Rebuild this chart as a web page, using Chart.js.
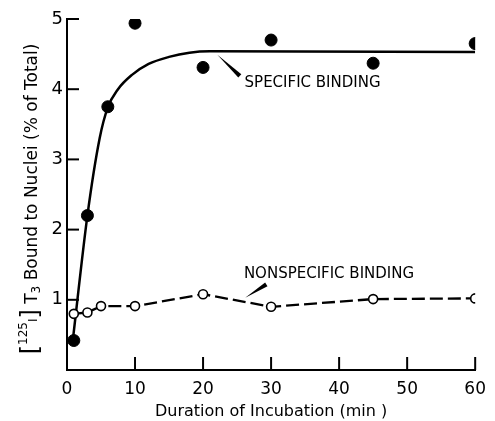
<!DOCTYPE html>
<html>
<head>
<meta charset="utf-8">
<script src="https://cdn.jsdelivr.net/npm/chart.js@4"></script>
<style>
  html, body { margin: 0; padding: 0; background: #fff; }
</style>
</head>
<body>
<canvas id="bindingChart" width="495" height="421"></canvas>
<script>
// values
const specTime = [1, 3, 6, 10, 20, 30, 45, 60];
const specValue = [0.42, 2.2, 3.75, 4.94, 4.31, 4.7, 4.37, 4.65];

// hand-drawn fit curve
const fitTime = [0.85, 3, 4.8, 6, 7.5, 9.5, 12, 15, 18, 21, 60];
const fitValue = [0.42, 2.2, 3.3, 3.74, 4.0, 4.2, 4.36, 4.46, 4.52, 4.54, 4.53];

const nsTime = [1, 3, 5, 10, 20, 30, 45, 60];
const nsValue = [0.80, 0.82, 0.91, 0.91, 1.08, 0.90, 1.01, 1.02];

const xTicks = [0, 10, 20, 30, 40, 50, 60];
const yTicks = [1, 2, 3, 4, 5];

const FONT = "'DejaVu Sans', sans-serif";

const toPoints = (xs, ys) => xs.map((x, i) => ({ x: x, y: ys[i] }));

// inward tick marks, y title with super/subscripts, and the two labels
const extras = {
  id: 'extras',
  afterDraw(chart) {
    const ctx = chart.ctx;
    const x = chart.scales.x, y = chart.scales.y;
    const area = chart.chartArea;
    ctx.save();
    ctx.strokeStyle = '#000';
    ctx.lineWidth = 2;
    yTicks.forEach(v => {
      const py = y.getPixelForValue(v);
      ctx.beginPath();
      ctx.moveTo(area.left, py);
      ctx.lineTo(area.left + 12, py);
      ctx.stroke();
    });
    xTicks.slice(1).forEach(v => {
      const px = x.getPixelForValue(v);
      ctx.beginPath();
      ctx.moveTo(px, area.bottom);
      ctx.lineTo(px, area.bottom - 13);
      ctx.stroke();
    });

    // y axis title, drawn rotated piece by piece
    const parts = [
      { t: '[', size: 24, dy: 1 },
      { t: '125', size: 12, dy: -10 },
      { t: 'I', size: 12, dy: 0 },
      { t: ']', size: 24, dy: 1 },
      { t: ' T', size: 17, dy: 0 },
      { t: '3', size: 12, dy: 3 },
      { t: ' Bound to Nuclei (% of Total)', size: 17, dy: 0 }
    ];
    let total = 0;
    parts.forEach(p => {
      ctx.font = p.size + 'px ' + FONT;
      p.w = ctx.measureText(p.t).width;
      total += p.w;
    });
    ctx.translate(37, 199);
    ctx.rotate(-Math.PI / 2);
    ctx.fillStyle = '#000';
    ctx.textBaseline = 'alphabetic';
    let cx = -total / 2;
    parts.forEach(p => {
      ctx.font = p.size + 'px ' + FONT;
      ctx.fillText(p.t, cx, p.dy);
      cx += p.w;
    });
    ctx.setTransform(1, 0, 0, 1, 0, 0);

    // annotation labels with wedge leaders
    const label = (text, tx, ty) => {
      ctx.font = '15px ' + FONT;
      ctx.textBaseline = 'middle';
      ctx.textAlign = 'left';
      ctx.fillText(text, x.getPixelForValue(tx), y.getPixelForValue(ty));
    };
    const wedge = (x0, y0, x1, y1) => {
      const ax = x.getPixelForValue(x0), ay = y.getPixelForValue(y0);
      const bx = x.getPixelForValue(x1), by = y.getPixelForValue(y1);
      const dx = bx - ax, dy = by - ay, len = Math.hypot(dx, dy);
      const nx = -dy / len * 2.2, ny = dx / len * 2.2;
      ctx.beginPath();
      ctx.moveTo(ax, ay);
      ctx.lineTo(bx + nx, by + ny);
      ctx.lineTo(bx - nx, by - ny);
      ctx.closePath();
      ctx.fill();
    };
    label('SPECIFIC BINDING', 26.1, 4.09);
    wedge(22.1, 4.49, 25.4, 4.19);
    label('NONSPECIFIC BINDING', 26.0, 1.36);
    wedge(26.2, 1.03, 29.3, 1.22);
    ctx.restore();
  }
};

const ctx = document.getElementById('bindingChart');
new Chart(ctx, {
  type: 'scatter',
  data: {
    datasets: [{
      label: 'Specific binding',
      data: toPoints(specTime, specValue),
      showLine: false,
      pointRadius: 6,
      backgroundColor: '#000',
      borderColor: '#000',
      order: 0
    },
    {
      label: 'Fit',
      data: toPoints(fitTime, fitValue),
      showLine: true,
      pointRadius: 0,
      borderColor: '#000',
      borderWidth: 2.5,
      cubicInterpolationMode: 'monotone',
      order: 2
    },
    {
      label: 'Nonspecific binding',
      data: toPoints(nsTime, nsValue),
      showLine: true,
      borderColor: '#000',
      borderWidth: 2.3,
      borderDash: [13, 5],
      pointRadius: 4.5,
      pointBackgroundColor: '#fff',
      pointBorderColor: '#000',
      pointBorderWidth: 1.6,
      order: 1
    }]
  },
  options: {
    responsive: false,
    animation: false,
    layout: { padding: { top: 19, right: 13, left: 0, bottom: 0 } },
    plugins: {
      legend: { display: false },
      tooltip: { enabled: false }
    },
    scales: {
      x: {
        type: 'linear',
        min: 0,
        max: 60,
        afterBuildTicks: s => { s.ticks = xTicks.map(v => ({ value: v })); },
        ticks: { color: '#000', font: { family: FONT, size: 17 }, padding: 9 },
        grid: { display: false, drawTicks: false },
        border: { color: '#000', width: 2 },
        title: {
          display: true,
          text: 'Duration of Incubation (min )',
          color: '#000',
          font: { family: FONT, size: 16 },
          padding: { top: 0, bottom: 0 }
        },
        afterFit: s => { s.height = 51; }
      },
      y: {
        min: 0,
        max: 5,
        afterBuildTicks: s => { s.ticks = yTicks.map(v => ({ value: v })); },
        ticks: { color: '#000', font: { family: FONT, size: 18 }, padding: 4 },
        grid: { display: false, drawTicks: false },
        border: { color: '#000', width: 2 },
        afterFit: s => { s.width = 67; }
      }
    }
  },
  plugins: [extras]
});
</script>
</body>
</html>
